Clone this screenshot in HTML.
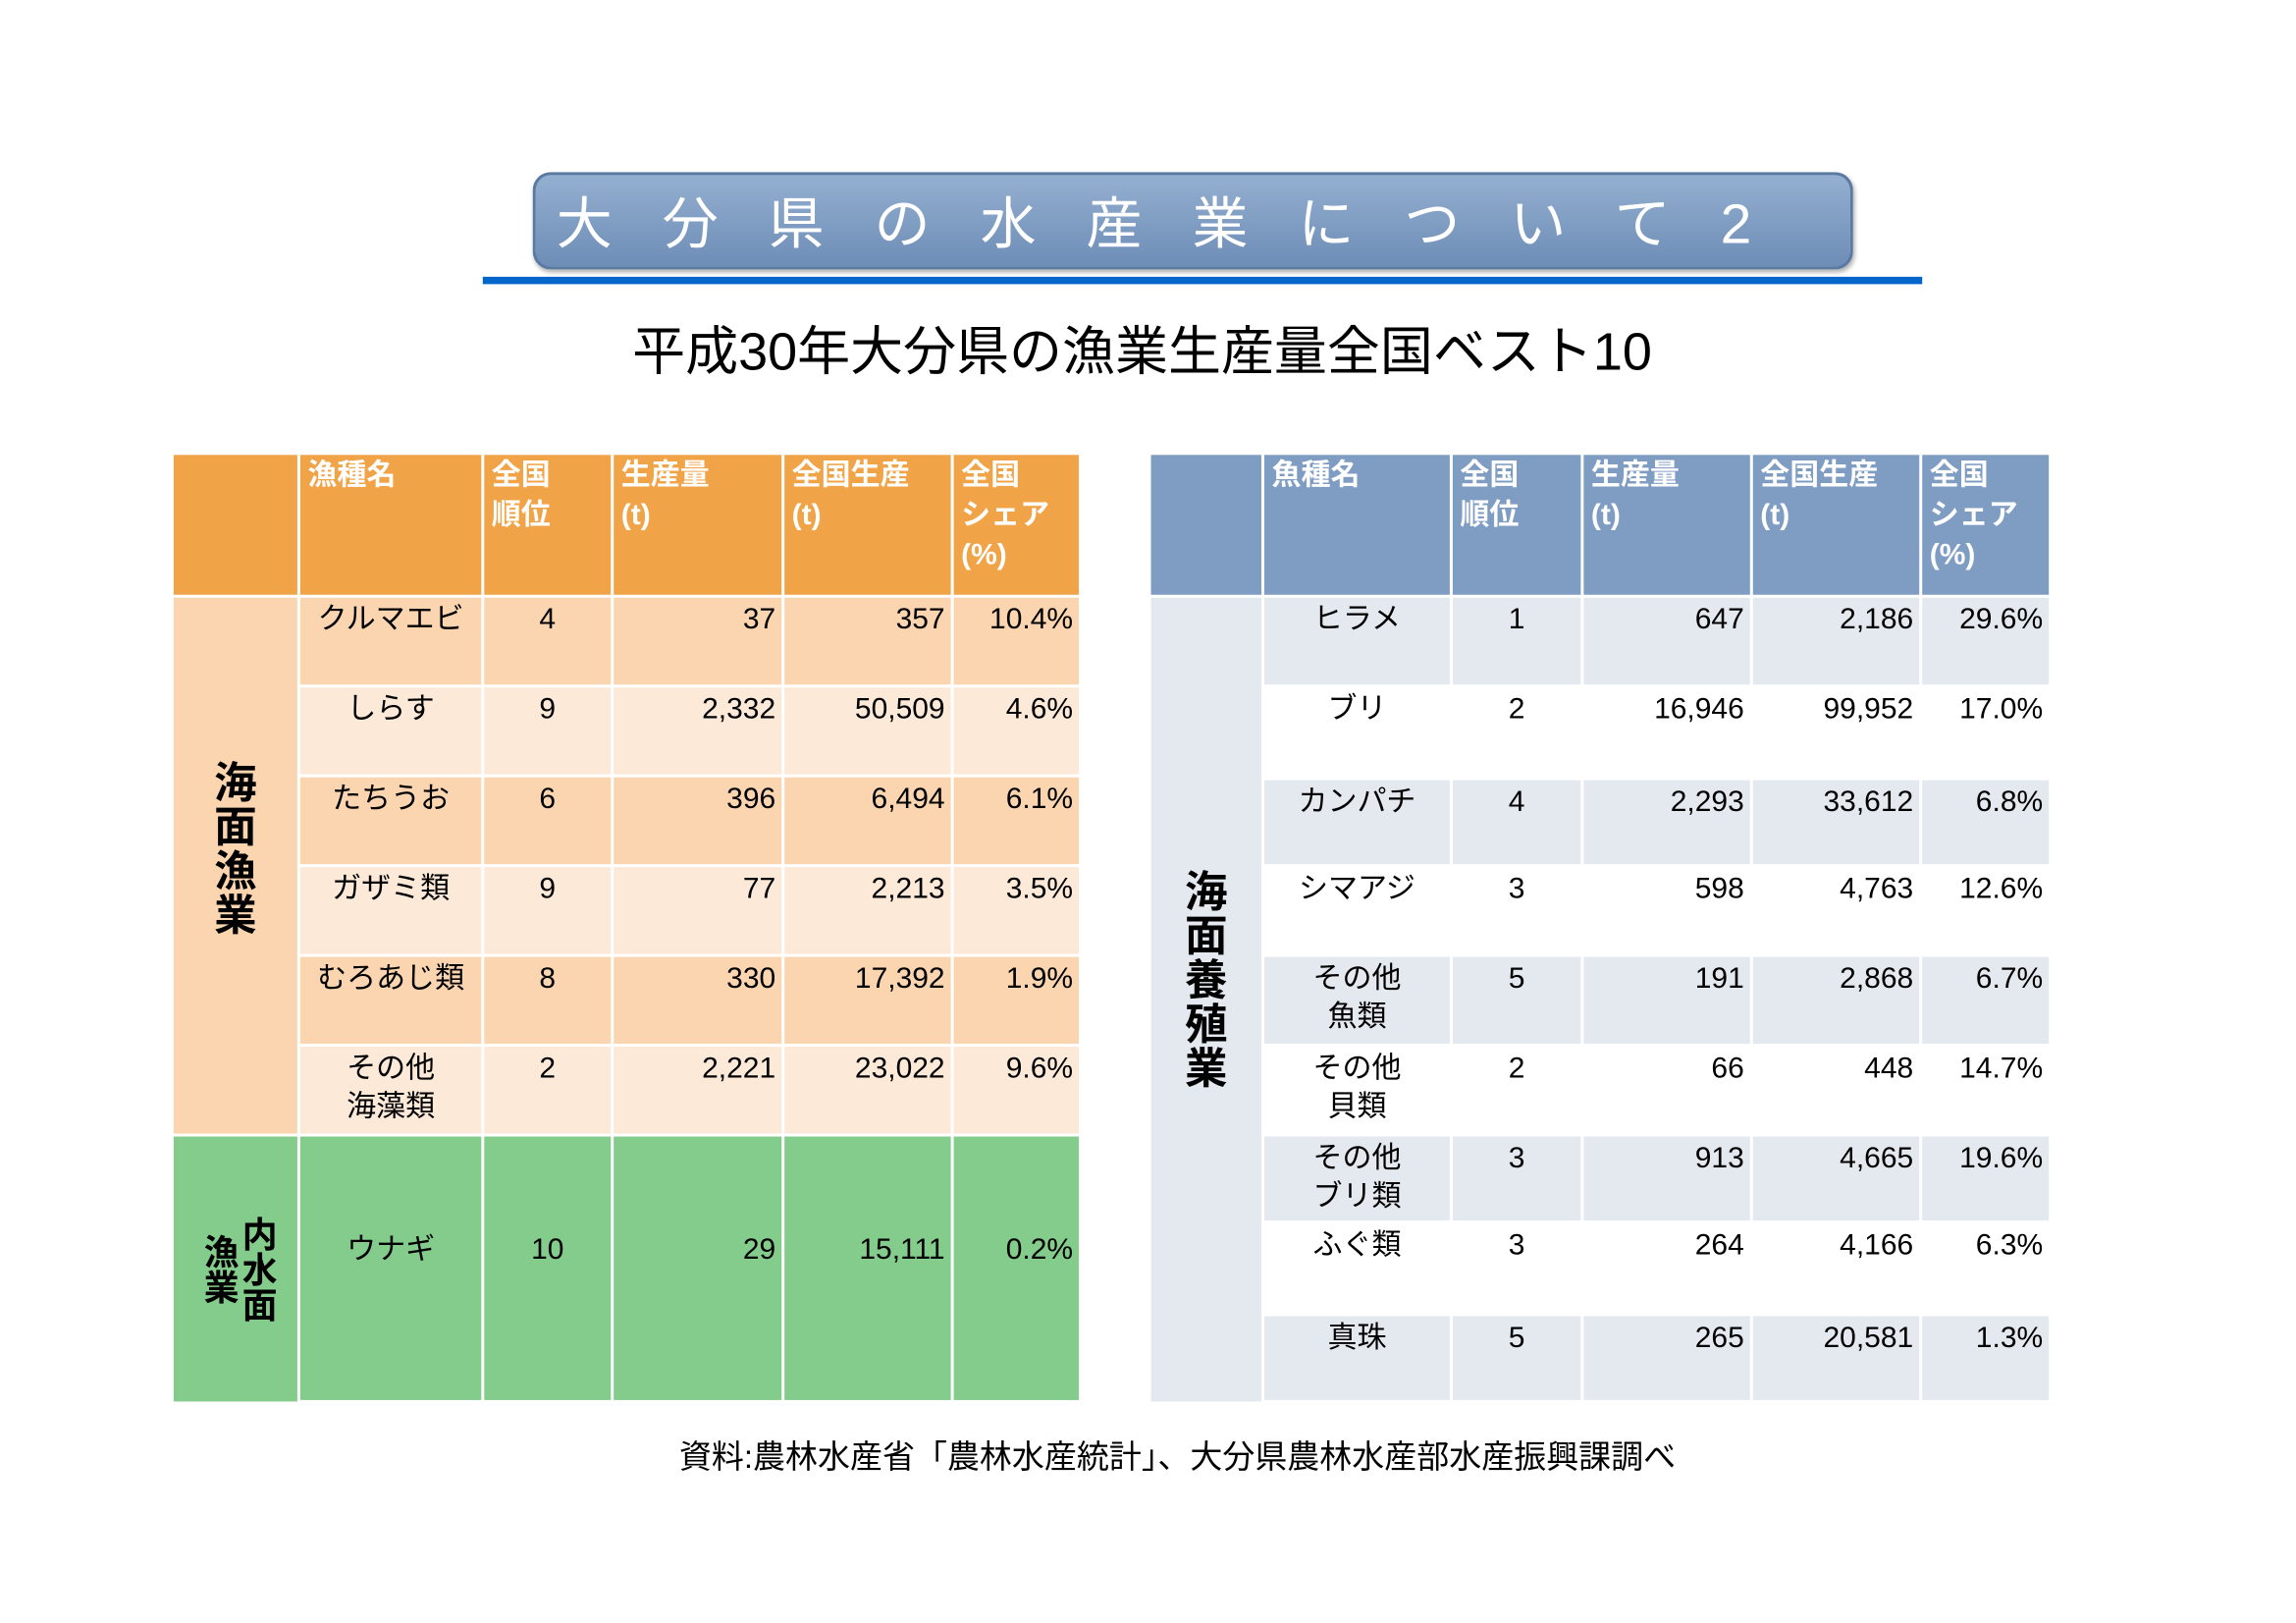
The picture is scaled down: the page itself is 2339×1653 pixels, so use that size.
<!DOCTYPE html>
<html><head><meta charset="utf-8">
<style>
html,body{margin:0;padding:0;background:#fff;}
#page{position:relative;width:2339px;height:1653px;overflow:hidden;background:#fff;}
#inner{position:absolute;left:0;top:0;width:1560px;height:1103px;transform:scale(1.4994);transform-origin:0 0;font-family:"Liberation Sans","Noto Sans CJK JP",sans-serif;}
.c{position:absolute;box-sizing:border-box;overflow:visible;}
.hd{color:#fff;font-weight:bold;font-size:20px;line-height:27px;padding:1px 5px;}
.txt{font-size:20px;line-height:26px;color:#000;padding-top:2px;}
</style></head><body>
<div id="page">
<div id="inner">
  <div class="c" style="left:362px;top:117px;width:897px;height:66px;border-radius:12px;background:linear-gradient(#93afd0,#6e8db6);border:2px solid #5b7aa2;box-shadow:1px 2px 3px rgba(0,0,0,.3);"></div>
  <div class="c" style="left:378px;top:128px;width:880px;height:50px;color:#fff;font-size:38px;line-height:50px;letter-spacing:34px;white-space:nowrap;">大分県の水産業について2</div>
  <div class="c" style="left:328px;top:188px;width:978px;height:5px;background:#0066cc;"></div>
  <div class="c" style="left:300px;top:214px;width:952px;height:50px;text-align:center;font-size:36px;line-height:50px;color:#000;white-space:nowrap;">平成30年大分県の漁業生産量全国ベスト10</div>
  <div id="tables"></div>
  <div class="c" style="left:300px;top:975px;width:1000px;height:30px;text-align:center;font-size:22px;line-height:30px;color:#000;white-space:nowrap;">資料:農林水産省「農林水産統計」、大分県農林水産部水産振興課調べ</div>
</div>
</div>
<script>
const leftNames=["クルマエビ","しらす","たちうお","ガザミ類","むろあじ類","その他<br>海藻類","ウナギ"];
const leftRank=["4","9","6","9","8","2","10"];
const leftProd=["37","2,332","396","77","330","2,221","29"];
const leftNat=["357","50,509","6,494","2,213","17,392","23,022","15,111"];
const leftShare=["10.4%","4.6%","6.1%","3.5%","1.9%","9.6%","0.2%"];
const rightNames=["ヒラメ","ブリ","カンパチ","シマアジ","その他<br>魚類","その他<br>貝類","その他<br>ブリ類","ふぐ類","真珠"];
const rightRank=["1","2","4","3","5","2","3","3","5"];
const rightProd=["647","16,946","2,293","598","191","66","913","264","265"];
const rightNat=["2,186","99,952","33,612","4,763","2,868","448","4,665","4,166","20,581"];
const rightShare=["29.6%","17.0%","6.8%","12.6%","6.7%","14.7%","19.6%","6.3%","1.3%"];
const headers=["","漁種名","全国<br>順位","生産量<br>(t)","全国生産<br>(t)","全国<br>シェア<br>(%)"];
const headersR=["","魚種名","全国<br>順位","生産量<br>(t)","全国生産<br>(t)","全国<br>シェア<br>(%)"];

const root=document.getElementById('tables');
function cell(x,y,w,h,bg,html,cls,align,name){
  const d=document.createElement('div');
  d.className='c '+cls;
  d.style.cssText=`left:${x}px;top:${y}px;width:${w}px;height:${h}px;background:${bg};text-align:${align};`;
  if(align==='right')d.style.paddingRight='4px';
  d.innerHTML=html;
  
  
  root.appendChild(d);
  return d;
}
const g=2;
// left table
const lx=[118,203,328,416,532,647,734];
const ly=[309,405,466,527,588,649,710,771,952];
for(let j=0;j<6;j++) cell(lx[j]+(j?g/2:0),ly[0],lx[j+1]-lx[j]-(j?g:g/2),ly[1]-ly[0]-g/2,'#f1a447',headers[j],'hd','left','left-header-cell');
for(let i=0;i<leftNames.length;i++){
  const y0=ly[i+1]+g/2, y1=ly[i+2]-g/2;
  const green=i===6;
  const bg=green?'#84cc8c':(i%2===0?'#fbd5b0':'#fde9d8');
  const vals=[leftNames[i],leftRank[i],leftProd[i],leftNat[i],leftShare[i]];
  const al=['center','center','right','right','right'];
  for(let j=1;j<6;j++){
    const d=cell(lx[j]+g/2,y0,lx[j+1]-lx[j]-g,y1-y0,bg,vals[j-1],'txt',al[j-1],'left-row-cell');
    if(green){d.style.paddingTop='64px';}
  }
}
let d=cell(118,ly[1]+1,84,ly[7]-ly[1]-2,'#fbd5b0','海<br>面<br>漁<br>業','txt','center','sea-fishery-label');
d.style.cssText+='font-size:29px;line-height:30px;padding-top:112px;font-weight:bold;';
d=cell(118,ly[7]+1,84,ly[8]-ly[7]-1,'#84cc8c','<span style="writing-mode:vertical-rl;display:inline-block;height:84px;font-size:24px;line-height:26px;font-weight:bold;">内水面漁業</span>','txt','center','inland-fishery-label');
d.style.paddingTop='48px';
// right table
const rx=[782,858,986,1075,1190,1305,1393];
const ry=[309,405,466,529,588,649,710,771,830,893,952];
for(let j=0;j<6;j++) cell(rx[j]+(j?g/2:0),ry[0],rx[j+1]-rx[j]-(j?g:g/2),ry[1]-ry[0]-g/2,'#7f9cc3',headersR[j],'hd','left','right-header-cell');
for(let i=0;i<rightNames.length;i++){
  const y0=ry[i+1]+g/2, y1=ry[i+2]-g/2;
  const bg=i%2===0?'#e4e9f0':'#ffffff';
  const vals=[rightNames[i],rightRank[i],rightProd[i],rightNat[i],rightShare[i]];
  const al=['center','center','right','right','right'];
  for(let j=1;j<6;j++) cell(rx[j]+g/2,y0,rx[j+1]-rx[j]-g,y1-y0,bg,vals[j-1],'txt',al[j-1],'right-row-cell');
}
d=cell(782,ry[1]+1,75,ry[10]-ry[1]-1,'#e4e9f0','海<br>面<br>養<br>殖<br>業','txt','center','aquaculture-label');
d.style.cssText+='font-size:29px;line-height:30px;padding-top:186px;font-weight:bold;';
</script>
</body></html>
